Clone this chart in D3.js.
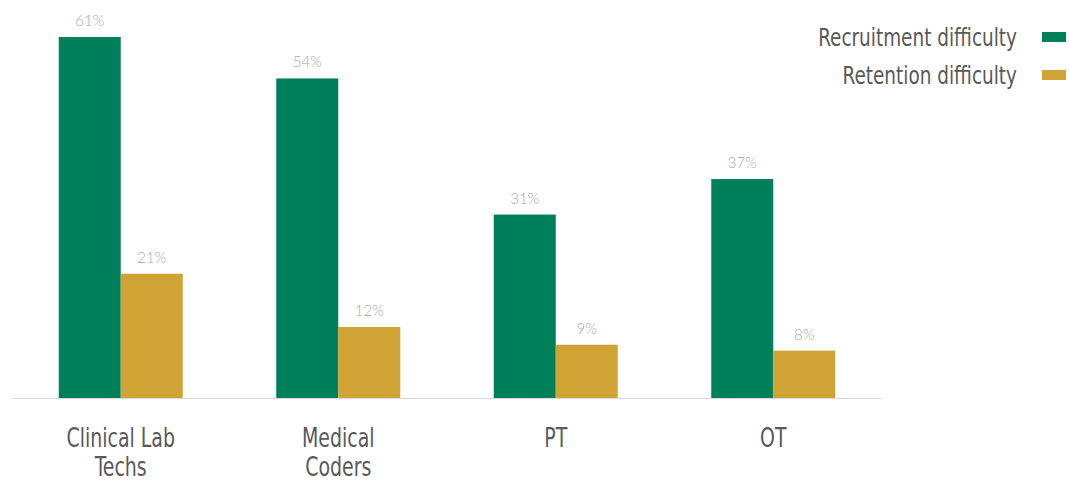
<!DOCTYPE html>
<html>
<head>
<meta charset="utf-8">
<script src="https://cdn.jsdelivr.net/npm/d3@7"></script>
<style>
  body { margin: 0; background: #fff; }
  text { font-family: "DejaVu Sans Condensed", "Liberation Sans Narrow", sans-serif; }
  text.val { font-family: Lato, "Open Sans", sans-serif; font-weight: 300; }
</style>
</head>
<body>
<svg id="chart" width="1069" height="484"></svg>
<script>
var categories = [["Clinical Lab", "Techs"], ["Medical", "Coders"], ["PT"], ["OT"]];
var seriesNames = ["Recruitment difficulty", "Retention difficulty"];
var recruitment = [61, 54, 31, 37];
var retention = [21, 12, 9, 8];
var colors = ["#00805a", "#d0a335"];

var svg = d3.select("#chart");
var baseY = 398;
var narrow = 0.81; // squeeze to mimic a condensed face

var x0 = d3.scaleBand().domain(d3.range(categories.length)).range([12, 882]).padding(0);
var x1 = d3.scaleBand().domain([0, 1]).range([0, 124]);
var y = d3.scaleLinear().domain([0, 61]).range([baseY, 37]);

var rows = categories.map(function(c, i) { return { i: i, vals: [recruitment[i], retention[i]] }; });

var g = svg.selectAll("g.grp")
  .data(rows)
  .enter().append("g")
  .attr("transform", function(d) { return "translate(" + (x0(d.i) + (x0.bandwidth() - 124) / 2) + ",0)"; });

var bars = g.selectAll("rect")
  .data(function(d) { return d.vals.map(function(v, k) { return { k: k, v: v }; }); })
  .enter();

bars.append("rect")
  .attr("x", function(d) { return x1(d.k); })
  .attr("width", x1.bandwidth())
  .attr("y", function(d) { return y(d.v); })
  .attr("height", function(d) { return baseY - y(d.v); })
  .attr("fill", function(d) { return colors[d.k]; });

bars.append("text")
  .attr("class", "val")
  .attr("x", function(d) { return x1(d.k) + x1.bandwidth() / 2; })
  .attr("y", function(d) { return y(d.v) - 11; })
  .attr("text-anchor", "middle")
  .attr("fill", "#a8a8a8")
  .style("font-size", "15px")
  .text(function(d) { return d.v + "%"; });

// axis line
svg.append("line")
  .attr("x1", 12).attr("x2", 882)
  .attr("y1", baseY + 0.5).attr("y2", baseY + 0.5)
  .attr("stroke", "#d9d9d9").attr("stroke-width", 1);

// category labels
svg.selectAll("text.cat")
  .data(rows)
  .enter().append("text")
  .attr("class", "cat")
  .attr("text-anchor", "middle")
  .attr("fill", "#595959")
  .style("font-size", "26px")
  .attr("transform", function(d) { return "translate(" + (x0(d.i) + x0.bandwidth() / 2) + ",447) scale(" + narrow + ",1)"; })
  .selectAll("tspan")
  .data(function(d) { return categories[d.i]; })
  .enter().append("tspan")
  .attr("x", 0)
  .attr("dy", function(d, k) { return k ? 29 : 0; })
  .text(function(d) { return d; });

// legend
var leg = svg.selectAll("g.leg")
  .data(seriesNames)
  .enter().append("g")
  .attr("transform", function(d, k) { return "translate(0," + (37 + k * 38) + ")"; });

leg.append("rect")
  .attr("x", 1042).attr("y", -5)
  .attr("width", 24).attr("height", 10)
  .attr("fill", function(d, k) { return colors[k]; });

leg.append("text")
  .attr("transform", "translate(1017,9) scale(0.82,1)")
  .attr("text-anchor", "end")
  .attr("fill", "#595959")
  .style("font-size", "25px")
  .text(function(d) { return d; });
</script>
</body>
</html>
